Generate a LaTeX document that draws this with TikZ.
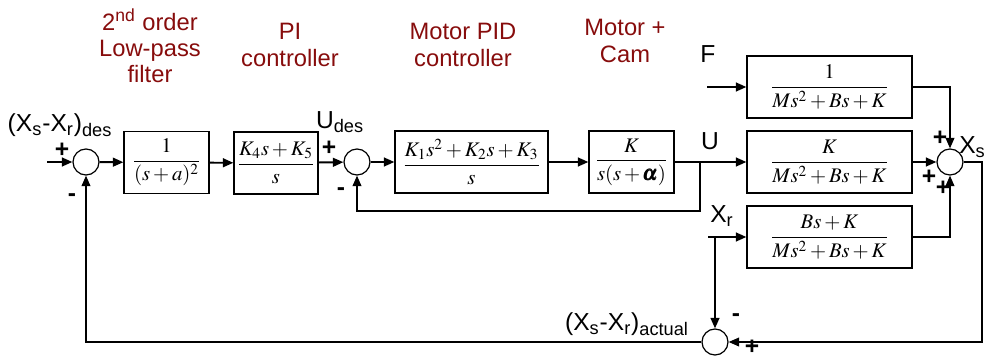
\documentclass[tikz,border=0pt]{standalone}
\usepackage{amsmath}
\usepackage{mathptmx}
\usepackage[no-math]{fontspec}
\setmainfont{Liberation Sans}
\usepackage{xcolor}
\usetikzlibrary{positioning,arrows.meta}
\definecolor{titlered}{RGB}{135,12,12}

\begin{document}
\begin{tikzpicture}[x=0.02cm, y=-0.02cm,
  box/.style={draw, line width=0.7pt, inner sep=0pt, minimum height=1.24cm, font=\fontsize{11.8}{13}\selectfont},
  sumnode/.style={draw, circle, line width=0.7pt, minimum size=0.52cm, inner sep=0pt},
  title/.style={align=center, text=titlered, font=\fontsize{13.5}{15}\selectfont},
  lbl/.style={font=\fontsize{14}{16}\selectfont, inner sep=0pt},
  sgn/.style={font=\fontsize{14}{16}\selectfont\bfseries, inner sep=0pt},
  arr/.style={-{Triangle[length=6pt,width=5pt]}, line width=1.1pt},
  fb/.style={-{Triangle[length=6pt,width=5pt]}, line width=0.8pt}]
\useasboundingbox (0,0) rectangle (987,358);
% blocks
\node[box, minimum width=1.7cm] (filt) at (166.5,162.5) {$\displaystyle\frac{1}{(s+a)^2}$};
\node[box, minimum width=1.68cm] (pi) at (276,163) {$\displaystyle\frac{K_4s+K_5}{s}$};
\node[box, minimum width=3.06cm] (pid) at (471.5,162) {$\displaystyle\frac{K_1s^2+K_2s+K_3}{s}$};
\node[box, minimum width=1.7cm] (cam) at (631.5,162) {$\displaystyle\frac{K}{s(s+\pmb{\alpha})}$};
\node[box, minimum width=3.3cm] (gf) at (829.5,87) {$\displaystyle\frac{1}{Ms^2+Bs+K}$};
\node[box, minimum width=3.3cm] (gu) at (829.5,162) {$\displaystyle\frac{K}{Ms^2+Bs+K}$};
\node[box, minimum width=3.3cm] (gx) at (829.5,237) {$\displaystyle\frac{Bs+K}{Ms^2+Bs+K}$};
% summing junctions
\node[sumnode] (s1) at (86,162) {};
\node[sumnode] (s2) at (357,162) {};
\node[sumnode] (s3) at (950,162) {};
\node[sumnode] (s4) at (715,342) {};
% free ends and branch points
\coordinate (in) at (47,162);
\coordinate (fin) at (707,87);
\coordinate (xrin) at (708,237);
\coordinate (ub) at (700,162);
\coordinate (ubd) at (700,211);
\coordinate (xrb) at (715,237);
\coordinate (out) at (982,162);
% titles
\node[title] (t1) at (150,46) {2\textsuperscript{nd} order\\Low-pass\\filter};
\node[title] (t2) at (290,45) {PI\\controller};
\node[title] (t3) at (463,45) {Motor PID\\controller};
\node[title] (t4) at (625,41) {Motor +\\Cam};
% signal labels
\node[lbl] (lin) at (60,125) {(X\textsubscript{s}-X\textsubscript{r})\textsubscript{des}};
\node[lbl] (ludes) at (340,122) {U\textsubscript{des}};
\node[lbl] (lu) at (710,141) {U};
\node[lbl] (lf) at (708,54) {F};
\node[lbl] (lxr) at (722,216) {X\textsubscript{r}};
\node[lbl, anchor=east] (lxs) at (986,147) {X\textsubscript{s}};
\node[lbl] (lact) at (627,324) {(X\textsubscript{s}-X\textsubscript{r})\textsubscript{actual}};
% signs
\node[sgn] at (62,150) {+};
\node[sgn] at (72,198) {-};
\node[sgn] at (329,148) {+};
\node[sgn] at (341,192) {-};
\node[sgn] at (940,138) {+};
\node[sgn] at (929,177) {+};
\node[sgn] at (943,188) {+};
\node[sgn] at (736,318) {-};
\node[sgn] at (752,347) {+};
% forward path
\draw[arr] (in) -- (s1);
\draw[arr] (s1) -- (filt);
\draw[arr] (filt) -- (pi);
\draw[arr] (pi) -- (s2);
\draw[arr] (s2) -- (pid);
\draw[arr] (pid) -- (cam);
\draw[arr] (cam) -- (gu);
\draw[fb] (ub) -- (ubd) -| (s2);
\draw[arr] (fin) -- (gf);
\draw[arr] (xrin) -- (gx);
\draw[fb] (gf) -| (s3);
\draw[arr] (gu) -- (s3);
\draw[fb] (gx) -| (s3);
% feedback
\draw[arr] (xrb) -- (s4);
\draw[fb] (s3) -- (out) |- (s4);
\draw[fb] (s4) -| (s1);
\end{tikzpicture}
\end{document}
